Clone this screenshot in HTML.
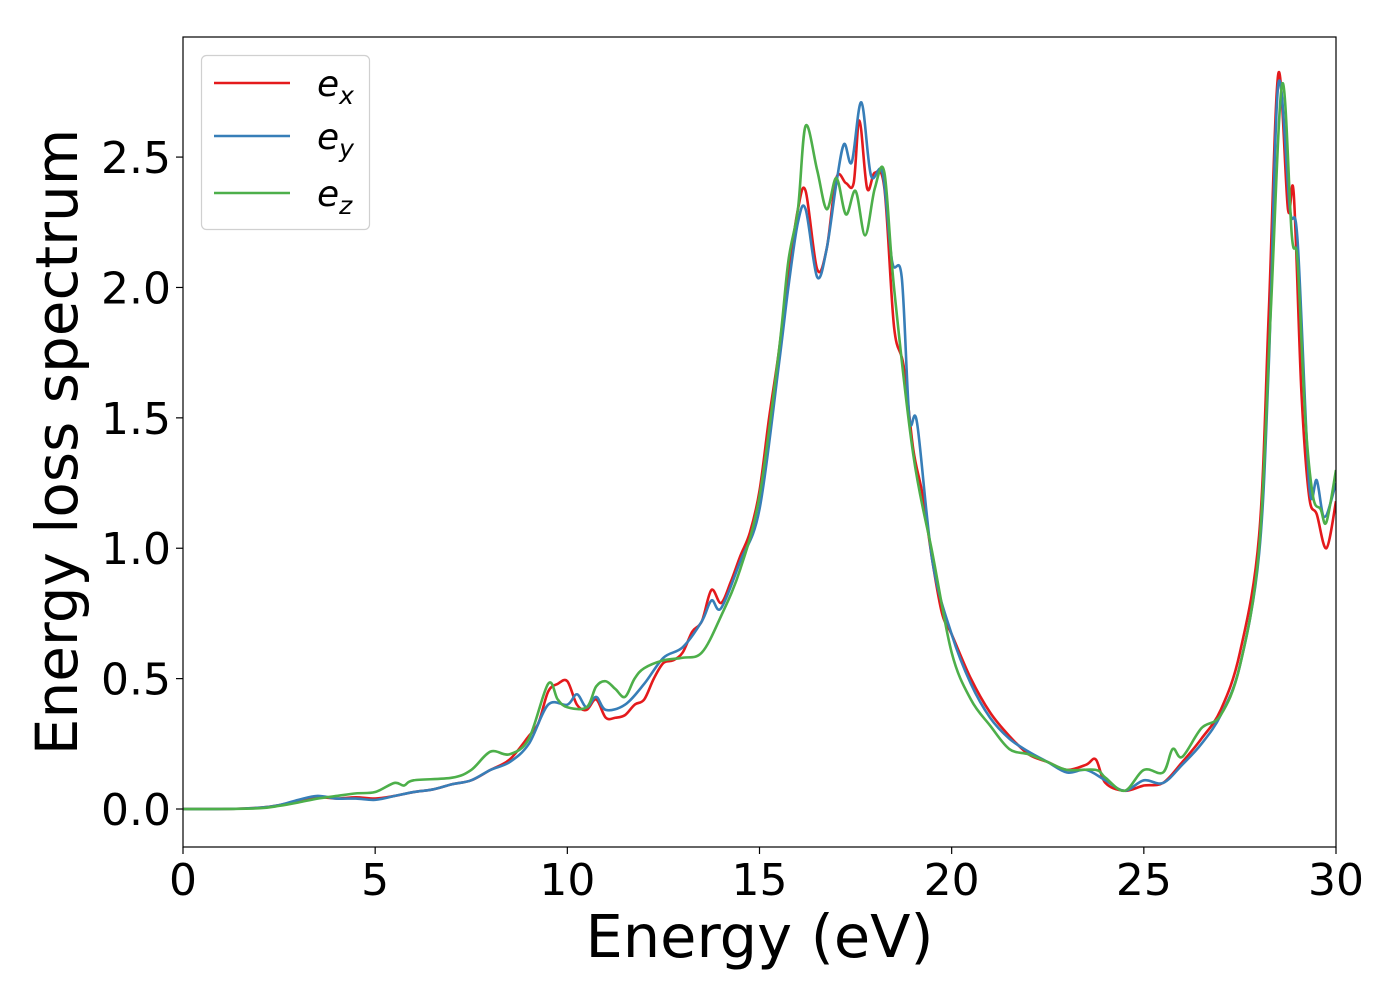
<!DOCTYPE html>
<html><head><meta charset="utf-8">
<style>
html,body{margin:0;padding:0;background:#fff;}
svg{display:block;font-family:"DejaVu Sans","Liberation Sans",sans-serif;}
</style></head>
<body>
<svg id="chart" width="1400" height="1000"></svg>
<script>
const xTicks=[0,5,10,15,20,25,30];
const yTicks=[0,0.5,1.0,1.5,2.0,2.5];
const yTickLabels=["0.0","0.5","1.0","1.5","2.0","2.5"];
const exX=[0,1,2,2.5,3,3.5,4,4.5,5,5.5,6,6.5,7,7.5,8,8.5,9,9.25,9.5,9.75,10,10.25,10.5,10.75,11,11.25,11.5,11.75,12,12.25,12.5,12.75,13,13.25,13.5,13.75,14,14.25,14.5,14.75,15,15.25,15.5,15.75,16,16.2,16.5,16.75,17,17.25,17.45,17.6,17.8,18,18.25,18.5,18.75,19,19.25,19.5,19.75,20,20.5,21,21.5,22,22.5,23,23.5,23.75,24,24.5,25,25.5,26,26.5,27,27.5,28,28.25,28.5,28.75,28.9,29.1,29.3,29.5,29.75,30];
const exY=[0,0,0.005,0.015,0.03,0.045,0.04,0.045,0.04,0.05,0.065,0.075,0.095,0.11,0.15,0.19,0.28,0.33,0.45,0.48,0.49,0.4,0.38,0.42,0.35,0.35,0.36,0.4,0.42,0.5,0.56,0.57,0.6,0.68,0.72,0.84,0.79,0.87,0.97,1.06,1.22,1.5,1.75,2.05,2.3,2.37,2.07,2.15,2.42,2.4,2.4,2.64,2.38,2.44,2.38,1.85,1.7,1.38,1.2,0.95,0.75,0.67,0.5,0.37,0.28,0.21,0.18,0.15,0.17,0.19,0.1,0.07,0.09,0.1,0.18,0.27,0.38,0.6,1.05,1.9,2.82,2.3,2.36,1.6,1.2,1.13,1.0,1.18];
const eyX=[0,1,2,2.5,3,3.5,4,4.5,5,5.5,6,6.5,7,7.5,8,8.5,9,9.5,10,10.25,10.5,10.75,11,11.5,12,12.5,13,13.5,13.75,14,14.5,15,15.5,15.75,16,16.2,16.5,16.75,17,17.2,17.4,17.65,17.9,18.2,18.45,18.7,18.9,19.1,19.5,20,20.5,21,21.5,22,22.5,23,23.5,24,24.5,25,25.5,26,26.5,27,27.5,28,28.25,28.5,28.8,29,29.3,29.5,29.7,30];
const eyY=[0,0,0.005,0.015,0.035,0.05,0.04,0.04,0.035,0.05,0.065,0.075,0.095,0.11,0.15,0.18,0.25,0.4,0.4,0.44,0.39,0.43,0.38,0.4,0.48,0.58,0.62,0.72,0.8,0.77,0.95,1.15,1.7,2.0,2.25,2.3,2.04,2.15,2.4,2.55,2.48,2.71,2.43,2.44,2.1,2.04,1.5,1.48,0.95,0.67,0.48,0.35,0.27,0.22,0.18,0.14,0.15,0.11,0.07,0.11,0.1,0.17,0.25,0.36,0.55,0.98,1.7,2.78,2.3,2.18,1.25,1.26,1.12,1.25];
const ezX=[0,1,2,2.5,3,3.5,4,4.5,5,5.5,5.75,6,7,7.5,8,8.5,9,9.5,9.75,10,10.5,10.75,11,11.25,11.5,11.75,12,12.5,13,13.5,14,14.5,15,15.5,15.75,16,16.2,16.5,16.75,17,17.25,17.5,17.75,18,18.25,18.5,19,19.5,20,20.5,21,21.5,22,22.5,23,23.75,24,24.5,25,25.5,25.75,26,26.5,27,27.5,28,28.3,28.6,28.85,29,29.2,29.4,29.6,29.75,30];
const ezY=[0,0,0.003,0.012,0.025,0.04,0.05,0.06,0.065,0.1,0.09,0.11,0.12,0.15,0.22,0.21,0.27,0.48,0.42,0.39,0.39,0.47,0.49,0.46,0.43,0.5,0.54,0.57,0.58,0.6,0.74,0.92,1.2,1.75,2.1,2.3,2.62,2.45,2.3,2.42,2.28,2.37,2.2,2.38,2.44,2.0,1.36,0.98,0.6,0.42,0.32,0.23,0.21,0.18,0.15,0.15,0.12,0.07,0.15,0.14,0.23,0.2,0.31,0.36,0.55,1.0,1.9,2.78,2.2,2.1,1.5,1.2,1.15,1.1,1.3];

const NS='http://www.w3.org/2000/svg';
const svg=document.getElementById('chart');
const L=183,R=1336,T=37,B=847;
const xMin=0,xMax=30,yMin=-0.1457,yMax=2.9605;
const sx=v=>L+(v-xMin)/(xMax-xMin)*(R-L);
const sy=v=>B-(v-yMin)/(yMax-yMin)*(B-T);
function mk(tag,attrs,parent){const e=document.createElementNS(NS,tag);for(const k in attrs)e.setAttribute(k,attrs[k]);(parent||svg).appendChild(e);return e;}

const clip=mk('clipPath',{id:'pc'});mk('rect',{x:L,y:T,width:R-L,height:B-T},clip);

function pathFor(xs,ys){
  const p=xs.map((x,i)=>[sx(x),sy(ys[i])]);
  let d='M'+p[0][0]+','+p[0][1];
  for(let i=0;i<p.length-1;i++){
    const p0=p[Math.max(0,i-1)],p1=p[i],p2=p[i+1],p3=p[Math.min(p.length-1,i+2)];
    const t=1/6;
    d+=' C'+(p1[0]+(p2[0]-p0[0])*t)+','+(p1[1]+(p2[1]-p0[1])*t)+' '+(p2[0]-(p3[0]-p1[0])*t)+','+(p2[1]-(p3[1]-p1[1])*t)+' '+p2[0]+','+p2[1];
  }
  return d;
}
const series=[[exX,exY,'#e41a1c','series-ex'],[eyX,eyY,'#377eb8','series-ey'],[ezX,ezY,'#4daf4a','series-ez']];
const g=mk('g',{'clip-path':'url(#pc)'});


series.forEach(s=>{
  const el=mk('path',{d:pathFor(s[0],s[1]),fill:'none',stroke:s[2],'stroke-width':2.6,'stroke-linejoin':'round'},g);
  
  
});

const frame=mk('rect',{x:L,y:T,width:R-L,height:B-T,fill:'none',stroke:'#000','stroke-width':1.2});



xTicks.forEach(v=>{
  const tk=mk('line',{x1:sx(v),x2:sx(v),y1:B,y2:B+7,stroke:'#000','stroke-width':1.2});
  
  
  const t=mk('text',{x:sx(v),y:B+48,'font-size':44,'text-anchor':'middle'});
  t.textContent=String(v);
  
  
});
yTicks.forEach((v,i)=>{
  const tk=mk('line',{x1:L-7,x2:L,y1:sy(v),y2:sy(v),stroke:'#000','stroke-width':1.2});
  
  
  const t=mk('text',{x:L-12,y:sy(v)+16,'font-size':44,'text-anchor':'end'});
  t.textContent=yTickLabels[i];
  
  
});
const xt=mk('text',{x:(L+R)/2+0,y:957,'font-size':59,'text-anchor':'middle'});
xt.textContent='Energy (eV)';


const yt=mk('text',{x:0,y:0,'font-size':58,'text-anchor':'middle',transform:'translate(77,442) rotate(-90)'});
yt.textContent='Energy loss spectrum';



const lg=mk('g',{});


mk('rect',{x:201.5,y:55.5,width:168,height:174,rx:5,fill:'#fff',stroke:'#d0d0d0','stroke-width':1.2},lg);
const subs=['x','y','z'];const ly=[83,136,193];
series.forEach((s,i)=>{
  const ln=mk('line',{x1:214,x2:290,y1:ly[i],y2:ly[i],stroke:s[2],'stroke-width':2.6},lg);
  
  
  const t=mk('text',{x:317,y:ly[i]+13,'font-size':36,'font-style':'italic'},lg);
  t.innerHTML='e<tspan font-size="25" dy="8">'+subs[i]+'</tspan>';
  
  
});
</script>
</body></html>
